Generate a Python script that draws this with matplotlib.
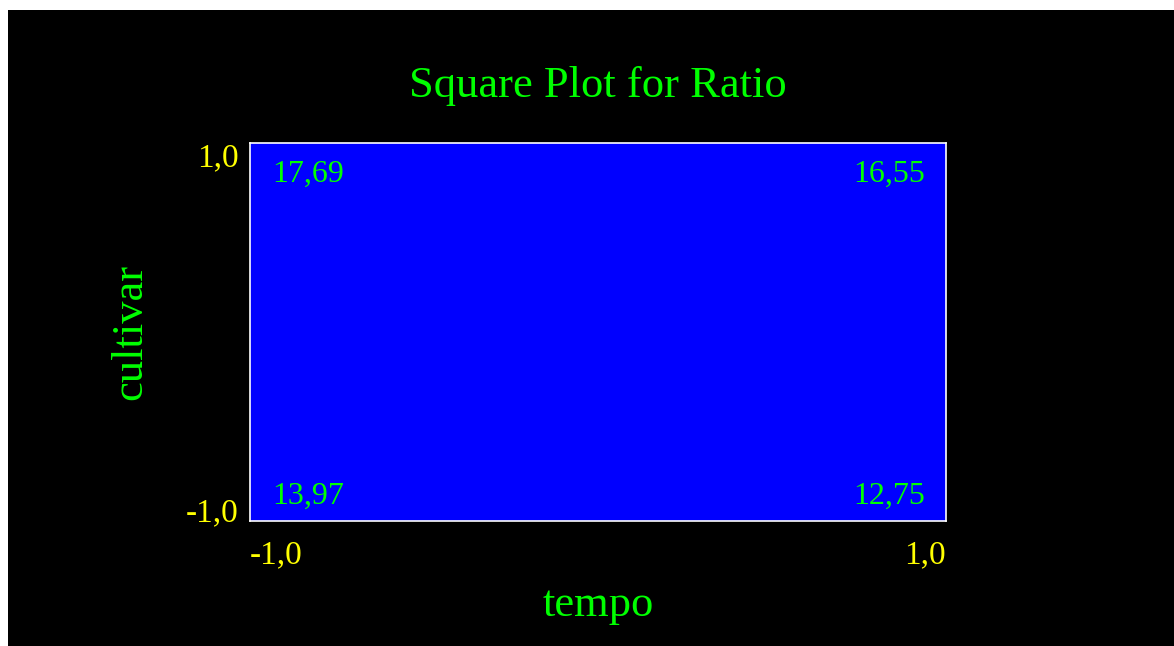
import matplotlib
matplotlib.use("Agg")
from matplotlib import pyplot as plt
from matplotlib.patches import Rectangle

# data
factor_x = "tempo"
factor_y = "cultivar"
levels = [-1.0, 1.0]
tick_labels = ["-1,0", "1,0"]
# ratio at the corners: (x level, y level) -> value
corner_x = [-1.0, 1.0, -1.0, 1.0]
corner_y = [1.0, 1.0, -1.0, -1.0]
corner_vals = ["17,69", "16,55", "13,97", "12,75"]

GREEN = "#00ff00"
YELLOW = "#ffff00"
plt.rcParams["font.family"] = ["Liberation Serif", "DejaVu Serif"]

fig = plt.figure(figsize=(11.74, 6.46), dpi=100, facecolor="white")
# black panel with thin white margin at left/top
fig.patches.append(Rectangle((8 / 1174, 0), 1, (646 - 10) / 646,
                             transform=fig.transFigure, facecolor="black",
                             edgecolor="none", zorder=-10))

W, H = 1174, 646
ax = fig.add_axes([250 / W, 1 - 521 / H, (946 - 250) / W, (521 - 143) / H])
ax.set_facecolor("blue")
ax.set_xlim(levels[0], levels[1])
ax.set_ylim(levels[0], levels[1])
for sp in ax.spines.values():
    sp.set_color("white")
    sp.set_linewidth(1.2)

ax.set_xticks(levels)
ax.set_xticklabels(tick_labels)
ax.set_yticks(levels)
ax.set_yticklabels(tick_labels)
ax.tick_params(length=0, colors=YELLOW, labelsize=24)
ax.tick_params(axis="x", pad=13.5)
ax.tick_params(axis="y", pad=8)
xl = ax.get_xticklabels()
xl[0].set_ha("left")
xl[1].set_ha("right")
yl = ax.get_yticklabels()
yl[0].set_va("baseline")
yl[1].set_va("top")

for cx, cy, v in zip(corner_x, corner_y, corner_vals):
    ha = "left" if cx < 0 else "right"
    va = "top" if cy > 0 else "bottom"
    dx = 16 if cx < 0 else -15
    dy = -12 if cy > 0 else 7
    ax.annotate(v, (cx, cy), xytext=(dx, dy), textcoords="offset points",
                ha=ha, va=va, color=GREEN, fontsize=23)

ax.set_xlabel(factor_x, color=GREEN, fontsize=32, va="center")
ax.xaxis.set_label_coords(0.5, (521 - 605) / 378)
ax.set_ylabel(factor_y, color=GREEN, fontsize=32, va="center")
ax.yaxis.set_label_coords((130 - 250) / 696, 0.5)
fig.text(598 / W, 1 - 86 / H, "Square Plot for Ratio", color=GREEN,
         fontsize=32, ha="center", va="center")

fig.savefig("out.png", dpi=100, facecolor=fig.get_facecolor())
